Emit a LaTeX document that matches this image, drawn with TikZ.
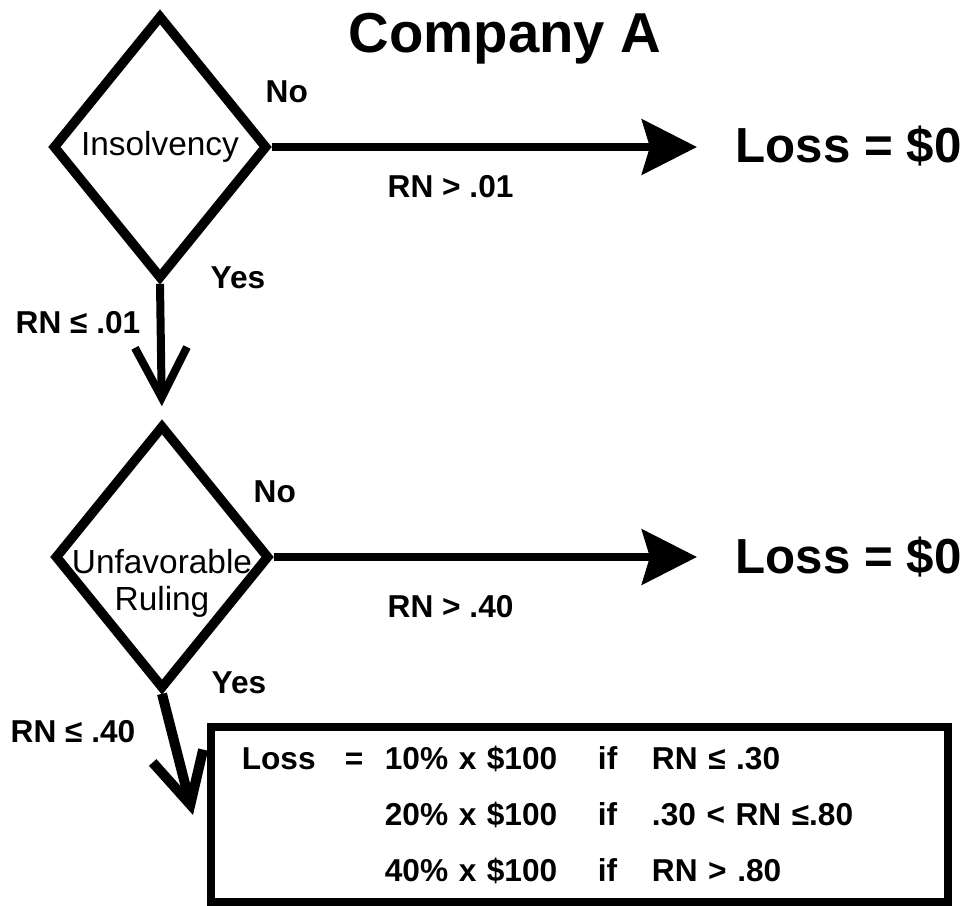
\documentclass[tikz,border=0pt]{standalone}
\usepackage{fontspec}
\setmainfont{Liberation Sans}
\usetikzlibrary{shapes.geometric,arrows.meta}

\tikzset{
  decision/.style={draw, diamond, line width=0.095cm, minimum width=2.15cm, minimum height=2.64cm,
    inner sep=0pt, align=center, font=\fontsize{9.5}{10.5}\selectfont},
  lbl/.style={inner sep=0pt, anchor=base west, font=\bfseries\fontsize{9}{10}\selectfont},
  result/.style={inner sep=0pt, anchor=base west, font=\bfseries\fontsize{14}{16}\selectfont},
  noarrow/.style={line width=0.08cm, -{Stealth[length=0.55cm, width=0.55cm, inset=0.08cm]}},
  yesarrow/.style={line width=0.08cm, -{Straight Barb[length=0.5cm, width=0.52cm]}},
}

\begin{document}
\begin{tikzpicture}[x=0.01cm, y=-0.01cm]
  \useasboundingbox (0,0) rectangle (966,906);

  \node (title) [inner sep=0pt, anchor=base, font=\bfseries\fontsize{16}{18}\selectfont] at (505,53) {Company A};

  % decisions
  \node (insolv) [decision] at (160,147) {Insolvency};
  \node (ruling) [decision] at (162,557) {\raisebox{-10pt}[0pt][0pt]{\begin{tabular}{@{}c@{}}Unfavorable\\Ruling\end{tabular}}};

  % outcomes
  \node (loss1) [result] at (735,162) {Loss = \$0};
  \node (loss2) [result] at (735,573) {Loss = \$0};
  \node (lossbox) [draw, line width=0.08cm, text width=6.75cm, inner xsep=0.31cm, inner ysep=0pt,
    minimum height=1.75cm, align=left, font=\bfseries\fontsize{9}{15.9}\selectfont] at (579.5,814.5)
    {\noindent\begin{tabular}{@{}p{1.03cm}@{}p{0.40cm}@{}p{2.13cm}@{}p{0.54cm}@{}l@{}}
      Loss & = & 10\% x \$100 & if & RN ≤ .30\\
           &   & 20\% x \$100 & if & .30 < RN ≤.80\\
           &   & 40\% x \$100 & if & RN > .80
    \end{tabular}};

  % branch labels
  \node (no1) [lbl] at (265,102) {No};
  \node (yes1) [lbl] at (210,288) {Yes};
  \node (rn1) [lbl] at (387,197) {RN > .01};
  \node (rn2) [lbl] at (15,333) {RN ≤ .01};
  \node (no2) [lbl] at (253,502) {No};
  \node (yes2) [lbl] at (211,693) {Yes};
  \node (rn3) [lbl] at (387,617) {RN > .40};
  \node (rn4) [lbl] at (10,742) {RN ≤ .40};

  % connectors
  \coordinate (yestip) at (193,815);
  \draw[noarrow, shorten >=0.38cm] (insolv.east) -- (insolv.east -| loss1.west);
  \draw[noarrow, shorten >=0.38cm] (ruling.east) -- (ruling.east -| loss2.west);
  \draw[yesarrow, shorten >=0.14cm] (insolv.south) -- (ruling.north);
  \draw[yesarrow, line width=0.1cm] (ruling.south) -- (yestip);
\end{tikzpicture}
\end{document}
